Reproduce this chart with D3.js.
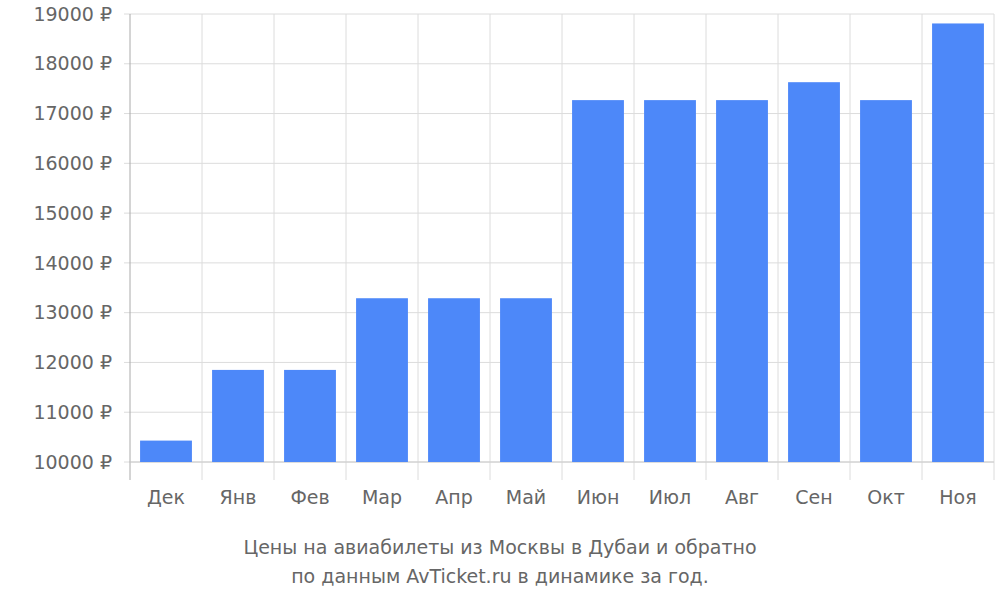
<!DOCTYPE html>
<html><head><meta charset="utf-8">
<script src="https://cdn.jsdelivr.net/npm/d3@7/dist/d3.min.js"></script>
<style>body{margin:0;background:#fff}svg{font-family:"DejaVu Sans",sans-serif}</style>
</head><body><svg id="c" width="1000" height="600"></svg>
<script>
const categories = ["Дек","Янв","Фев","Мар","Апр","Май","Июн","Июл","Авг","Сен","Окт","Ноя"];
const prices = [10430,11850,11850,13290,13290,13290,17270,17270,17270,17630,17270,18810];
const yTicks = [10000,11000,12000,13000,14000,15000,16000,17000,18000,19000];
const titleLines = ["Цены на авиабилеты из Москвы в Дубаи и обратно","по данным AvTicket.ru в динамике за год."];

const svg = d3.select("#c");
const L=130,R=994,T=14,B=462,BOT=480;
const x = d3.scaleBand().domain(categories).range([L,R]).paddingInner(0.28).paddingOuter(0.14);
const y = d3.scaleLinear().domain([10000,19000]).range([B,T]);
const step = x.step();
const grid = svg.append("g");
grid.selectAll("line.h").data(yTicks).join("line")
  .attr("x1",L-6).attr("x2",R).attr("y1",d=>y(d)).attr("y2",d=>y(d))
  .attr("stroke","#dcdcdc").attr("stroke-width",1);
grid.selectAll("line.v").data(d3.range(categories.length+1)).join("line")
  .attr("x1",i=>L+i*step).attr("x2",i=>L+i*step).attr("y1",T).attr("y2",BOT)
  .attr("stroke",i=>i===0?"#aaa":"#dcdcdc").attr("stroke-width",1);
svg.append("line").attr("x1",L).attr("x2",R).attr("y1",B).attr("y2",B).attr("stroke","#ccc");
svg.append("g").selectAll("rect").data(categories).join("rect")
  .attr("x",d=>x(d)).attr("width",x.bandwidth())
  .attr("y",(d,i)=>y(prices[i])).attr("height",(d,i)=>B-y(prices[i]))
  .attr("fill","#4d88f9");
svg.append("g").selectAll("text").data(yTicks).join("text")
  .attr("x",L-18).attr("y",d=>y(d)).attr("dy","0.35em").attr("text-anchor","end")
  .attr("font-size",19).attr("fill","#666").text(d=>d+" ₽");
svg.append("g").selectAll("text").data(categories).join("text")
  .attr("x",d=>x(d)+x.bandwidth()/2).attr("y",504).attr("text-anchor","middle")
  .attr("font-size",19).attr("fill","#666").text(d=>d);
svg.append("g").selectAll("text").data(titleLines).join("text")
  .attr("x",500).attr("y",(d,i)=>554+i*29).attr("text-anchor","middle")
  .attr("font-size",19).attr("fill","#666").text(d=>d);
</script></body></html>
